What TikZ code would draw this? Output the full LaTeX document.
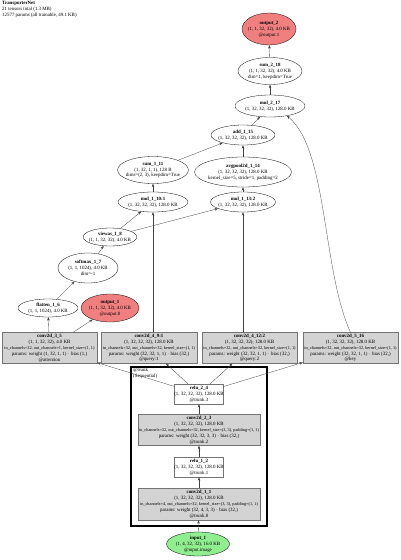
\documentclass[tikz,border=0pt]{standalone}
\usepackage{fontspec}
\setmainfont{Liberation Serif}
\usetikzlibrary{shapes.geometric, arrows.meta}
\definecolor{outred}{HTML}{F08080}
\definecolor{ingreen}{HTML}{90EE90}
\definecolor{modgray}{HTML}{D3D3D3}
\newcommand{\spill}[1]{\makebox[0pt]{\fontsize{4.3}{5.9}\selectfont #1}}

\begin{document}
\begin{tikzpicture}[x=1pt, y=-1pt, >={Stealth[length=3.5pt, width=2.6pt]},
  txt/.style={font=\fontsize{4.9}{5.9}\selectfont, align=center, inner sep=0pt},
  fn/.style={txt, ellipse, draw=black, line width=0.3pt, fill=white, inner xsep=-2pt},
  outfn/.style={fn, fill=outred},
  infn/.style={fn, fill=ingreen},
  modbox/.style={txt, rectangle, draw=black!55, line width=0.3pt, fill=modgray},
  relubox/.style={txt, rectangle, draw=black!55, line width=0.3pt, fill=white},
  edge/.style={->, draw=black!75, line width=0.3pt}]

  \useasboundingbox (0,0) rectangle (400,560);

  % Model summary
  \node[txt, align=left, anchor=north west] (summary) at (2,1) {\textbf{TransporterNet}\\21 tensors total (1.3 MB)\\12577 params (all trainable, 49.1 KB)};

  % Trunk cluster
  \draw[line width=1.6pt] (131,367) rectangle (267,526);
  \node[txt, align=left, anchor=north west] (trunklbl) at (133,367.5) {@trunk\\(Sequential)};

  % Input and trunk layers
  \node[infn, minimum width=63, minimum height=24] (input1) at (198,544) {\textbf{input\_1}\\(1, 4, 32, 32), 16.0 KB\\@input.image};
  \node[modbox, minimum width=122, minimum height=32] (conv11) at (199,504) {\textbf{conv2d\_1\_1}\\(1, 32, 32, 32), 128.0 KB\\\spill{in\_channels=4, out\_channels=32, kernel\_size=(3, 3), padding=(1, 1)}\\params: weight (32, 4, 3, 3) $\cdot$ bias (32,)\\@trunk.0};
  \node[relubox, minimum width=48, minimum height=20] (relu12) at (199,467) {\textbf{relu\_1\_2}\\(1, 32, 32, 32), 128.0 KB\\@trunk.1};
  \node[modbox, minimum width=122, minimum height=31] (conv23) at (199,430) {\textbf{conv2d\_2\_3}\\(1, 32, 32, 32), 128.0 KB\\\spill{in\_channels=32, out\_channels=32, kernel\_size=(3, 3), padding=(1, 1)}\\params: weight (32, 32, 3, 3) $\cdot$ bias (32,)\\@trunk.2};
  \node[relubox, minimum width=48, minimum height=20] (relu24) at (199,394) {\textbf{relu\_2\_4}\\(1, 32, 32, 32), 128.0 KB\\@trunk.3};

  % Heads
  \node[modbox, minimum width=95, minimum height=31] (conv35) at (49.5,348) {\textbf{conv2d\_3\_5}\\(1, 1, 32, 32), 4.0 KB\\\spill{in\_channels=32, out\_channels=1, kernel\_size=(1, 1)}\\params: weight (1, 32, 1, 1) $\cdot$ bias (1,)\\@attention};
  \node[modbox, minimum width=96, minimum height=31] (conv49) at (149,348) {\textbf{conv2d\_4\_9:1}\\(1, 32, 32, 32), 128.0 KB\\\spill{in\_channels=32, out\_channels=32, kernel\_size=(1, 1)}\\params: weight (32, 32, 1, 1) $\cdot$ bias (32,)\\@query:1};
  \node[modbox, minimum width=95, minimum height=31] (conv412) at (249.5,348) {\textbf{conv2d\_4\_12:2}\\(1, 32, 32, 32), 128.0 KB\\\spill{in\_channels=32, out\_channels=32, kernel\_size=(1, 1)}\\params: weight (32, 32, 1, 1) $\cdot$ bias (32,)\\@query:2};
  \node[modbox, minimum width=95, minimum height=31] (conv516) at (350.5,348) {\textbf{conv2d\_5\_16}\\(1, 32, 32, 32), 128.0 KB\\\spill{in\_channels=32, out\_channels=32, kernel\_size=(1, 1)}\\params: weight (32, 32, 1, 1) $\cdot$ bias (32,)\\@key};

  % Attention branch
  \node[fn, minimum width=60, minimum height=18] (flatten16) at (48,308) {\textbf{flatten\_1\_6}\\(1, 1, 1024), 4.0 KB};
  \node[outfn, minimum width=58, minimum height=28] (output1) at (110,308) {\textbf{output\_1}\\(1, 1, 32, 32), 4.0 KB\\@output.0};
  \node[fn, minimum width=60, minimum height=30] (softmax17) at (88,268) {\textbf{softmax\_1\_7}\\(1, 1, 1024), 4.0 KB\\dim=-1};
  \node[fn, minimum width=50, minimum height=18] (viewas18) at (110,237) {\textbf{viewas\_1\_8}\\(1, 1, 32, 32), 4.0 KB};
  \node[fn, minimum width=70, minimum height=20] (mul110) at (153,202) {\textbf{mul\_1\_10:1}\\(1, 32, 32, 32), 128.0 KB};
  \node[fn, minimum width=65, minimum height=20] (mul113) at (243,202) {\textbf{mul\_1\_13:2}\\(1, 32, 32, 32), 128.0 KB};
  \node[fn, minimum width=70, minimum height=27] (sum111) at (153,170) {\textbf{sum\_1\_11}\\(1, 32, 1, 1), 128 B\\dims=(2, 3), keepdim=True};
  \node[fn, minimum width=97, minimum height=30] (avgpool114) at (243,172) {\textbf{avgpool2d\_1\_14}\\(1, 32, 32, 32), 128.0 KB\\kernel\_size=5, stride=1, padding=2};
  \node[fn, minimum width=63, minimum height=20] (add115) at (243,135) {\textbf{add\_1\_15}\\(1, 32, 32, 32), 128.0 KB};
  \node[fn, minimum width=70, minimum height=22] (mul217) at (270,106) {\textbf{mul\_2\_17}\\(1, 32, 32, 32), 128.0 KB};
  \node[fn, minimum width=64, minimum height=27] (sum218) at (270,71) {\textbf{sum\_2\_18}\\(1, 1, 32, 32), 4.0 KB\\dim=1, keepdim=True};
  \node[outfn, minimum width=54, minimum height=32] (output2) at (269,29) {\textbf{output\_2}\\(1, 1, 32, 32), 4.0 KB\\@output.1};

  % Edges
  \draw[edge] (input1) -- (conv11);
  \draw[edge] (conv11) -- (relu12);
  \draw[edge] (relu12) -- (conv23);
  \draw[edge] (conv23) -- (relu24);
  \draw[edge] (relu24) -- (conv35);
  \draw[edge] (relu24) -- (conv49);
  \draw[edge] (relu24) -- (conv412);
  \draw[edge] (relu24) -- (conv516);
  \draw[edge] (conv35) -- (flatten16);
  \draw[edge] (conv35) -- (output1);
  \draw[edge] (flatten16) -- (softmax17);
  \draw[edge] (softmax17) -- (viewas18);
  \draw[edge] (viewas18) -- (mul110);
  \draw[edge] (viewas18) -- (mul113);
  \draw[edge] (conv49.north -| mul110) -- (mul110);
  \draw[edge] (conv412.north -| mul113) -- (mul113);
  \draw[edge] (mul110) -- (sum111);
  \draw[edge] (mul113) -- (avgpool114);
  \draw[edge] (sum111) -- (add115);
  \draw[edge] (avgpool114) -- (add115);
  \draw[edge] (add115) -- (mul217);
  \draw[edge] (conv516.north) .. controls (322,270) and (328,150) .. (mul217.-30);
  \draw[edge] (mul217) -- (sum218);
  \draw[edge] (sum218) -- (output2);

\end{tikzpicture}
\end{document}
